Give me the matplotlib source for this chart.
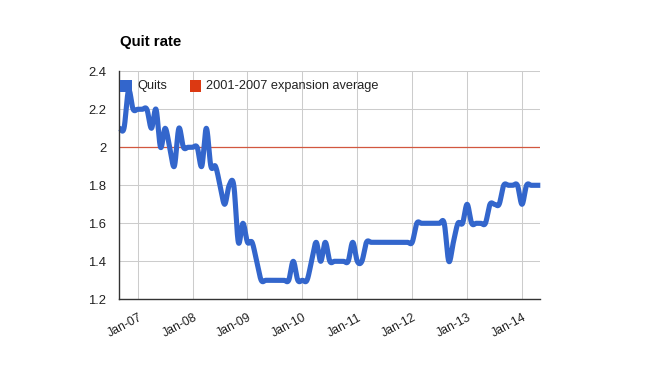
import numpy as np
import pandas as pd
import matplotlib
matplotlib.use("Agg")
import matplotlib.pyplot as plt
from matplotlib.patches import Rectangle

plt.rcParams['font.family'] = ['Liberation Sans', 'DejaVu Sans']

title = "Quit rate"
series_name = "Quits"
avg_name = "2001-2007 expansion average"
start_month = "2006-09-01"
quits = [2.1, 2.1, 2.3, 2.2, 2.2, 2.2, 2.2, 2.1, 2.2, 2.0,
         2.1, 2.0, 1.9, 2.1, 2.0, 2.0, 2.0, 2.0, 1.9, 2.1,
         1.9, 1.9, 1.8, 1.7, 1.8, 1.8, 1.5, 1.6, 1.5, 1.5,
         1.4, 1.3, 1.3, 1.3, 1.3, 1.3, 1.3, 1.3, 1.4, 1.3,
         1.3, 1.3, 1.4, 1.5, 1.4, 1.5, 1.4, 1.4, 1.4, 1.4,
         1.4, 1.5, 1.4, 1.4, 1.5, 1.5, 1.5, 1.5, 1.5, 1.5,
         1.5, 1.5, 1.5, 1.5, 1.5, 1.6, 1.6, 1.6, 1.6, 1.6,
         1.6, 1.6, 1.4, 1.5, 1.6, 1.6, 1.7, 1.6, 1.6, 1.6,
         1.6, 1.7, 1.7, 1.7, 1.8, 1.8, 1.8, 1.8, 1.7, 1.8,
         1.8, 1.8, 1.8]
expansion_avg = 2.0
y_ticks = [1.2, 1.4, 1.6, 1.8, 2.0, 2.2, 2.4]
y_tick_labels = ["1.2", "1.4", "1.6", "1.8", "2", "2.2", "2.4"]

months = pd.date_range(start_month, periods=len(quits), freq="MS")
x = np.arange(len(quits), dtype=float)
y = np.array(quits, dtype=float)


def smooth(xs, ys, steps=24):
    # Catmull-Rom style curve through the points (drawing style only)
    px = np.concatenate([[xs[0]], xs, [xs[-1]]])
    py = np.concatenate([[ys[0]], ys, [ys[-1]]])
    ox, oy = [], []
    t = np.linspace(0, 1, steps, endpoint=False)
    for i in range(1, len(px) - 2):
        p0, p1, p2, p3 = py[i - 1], py[i], py[i + 1], py[i + 2]
        c1 = p1 + (p2 - p0) / 6.0
        c2 = p2 - (p3 - p1) / 6.0
        yy = (1 - t) ** 3 * p1 + 3 * (1 - t) ** 2 * t * c1 + 3 * (1 - t) * t ** 2 * c2 + t ** 3 * p2
        xx = px[i] + (px[i + 1] - px[i]) * t
        ox.append(xx)
        oy.append(yy)
    ox.append([xs[-1]])
    oy.append([ys[-1]])
    return np.concatenate(ox), np.concatenate(oy)


fig = plt.figure(figsize=(6.58, 3.71), dpi=100)
ax = fig.add_axes([119.4 / 658, (371 - 299.3) / 371, (540.3 - 119.4) / 658, (299.3 - 71.3) / 371])

ax.set_xlim(x[0], x[-1])
ax.set_ylim(y_ticks[0], y_ticks[-1])

jan_idx = [i for i, m in enumerate(months) if m.month == 1]
ax.set_xticks(x[jan_idx])
ax.set_xticklabels([])
ax.set_yticks(y_ticks)
ax.set_yticklabels(y_tick_labels)
ax.tick_params(axis='both', length=0)
ax.tick_params(axis='y', pad=9.5, labelsize=9.4, colors='#222222')

ax.grid(True, color='#cccccc', linewidth=0.75)
ax.set_axisbelow(True)
for s in ['top', 'right']:
    ax.spines[s].set_visible(False)
for s in ['left', 'bottom']:
    ax.spines[s].set_color('#333333')
    ax.spines[s].set_linewidth(1.0)
    ax.spines[s].set_zorder(5)

ax.axhline(expansion_avg, color='#d2573f', linewidth=0.9, zorder=2)

sx, sy = smooth(x, y)
ax.plot(sx, sy, color='#3366cc', linewidth=3.7, solid_capstyle='butt',
        solid_joinstyle='round', zorder=3, clip_on=False)

# x tick labels rotated
for i in jan_idx:
    ax.annotate(months[i].strftime("%b-%y"), xy=(x[i], y_ticks[0]), xycoords='data',
                xytext=(0.5, -9), textcoords='offset points', rotation=28,
                ha='right', va='top', fontsize=8.8, color='#222222',
                rotation_mode='anchor')

# title
fig.text(120 / 658, 1 - 42 / 371, title, fontsize=10.8, fontweight='bold',
         ha='left', va='center', color='#000000')

# legend
def px2fig(px, py):
    return px / 658, 1 - py / 371

lx, ly = px2fig(120, 91.7)
fig.patches.append(Rectangle((lx, ly), 11.5 / 658, 12.2 / 371, transform=fig.transFigure,
                             facecolor='#3366cc', edgecolor='none', zorder=10, figure=fig))
tx, ty = px2fig(137, 86)
fig.text(tx, ty, series_name, fontsize=9.2, ha='left', va='center', color='#222222', zorder=10)
rx, ry = px2fig(189.5, 91.7)
fig.patches.append(Rectangle((rx, ry), 11.5 / 658, 12.2 / 371, transform=fig.transFigure,
                             facecolor='#dc3912', edgecolor='none', zorder=10, figure=fig))
tx2, ty2 = px2fig(206.5, 86)
fig.text(tx2, ty2, avg_name, fontsize=9.2, ha='left', va='center', color='#222222', zorder=10)

fig.savefig("out.png", dpi=100)
